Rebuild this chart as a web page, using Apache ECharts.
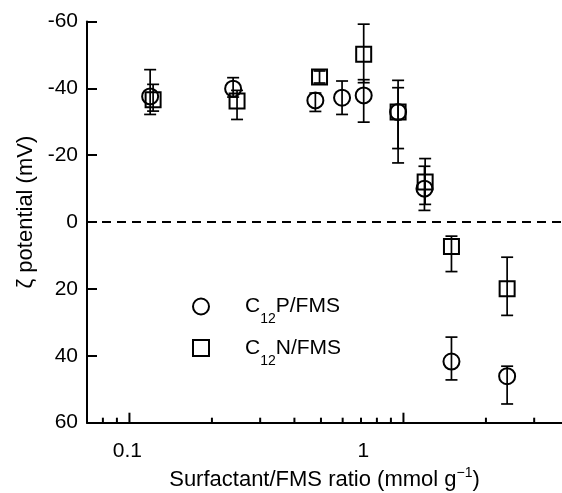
<!DOCTYPE html>
<html><head><meta charset="utf-8">
<script src="https://cdn.jsdelivr.net/npm/echarts@6/dist/echarts.min.js"></script>
<style>html,body{margin:0;padding:0;background:#fff}#c{width:562px;height:493px}</style>
</head><body><div id="c"></div>
<script>
// ---- data ----
const seriesNames = ['C12P/FMS', 'C12N/FMS'];
// C12P/FMS (circles)
const ratioP = [0.119, 0.239, 0.477, 0.597, 0.716, 0.956, 1.193, 1.497, 2.39];
const zetaP  = [-37.6, -39.9, -36.4, -37.2, -37.9, -32.9, -10.0, 41.7, 46.1];
const errLowP  = [-45.6, -43.2, -38.6, -42.2, -42.6, -40.2, -16.7, 34.4, 43.1];
const errHighP = [-32.2, -37.4, -33.1, -32.2, -29.9, -22.0, -3.5, 47.2, 54.4];
// C12N/FMS (squares)
const ratioN = [0.122, 0.247, 0.494, 0.716, 0.956, 1.2, 1.497, 2.39];
const zetaN  = [-36.6, -36.2, -43.4, -50.2, -32.9, -12.0, 7.3, 19.9];
const errLowN  = [-41.2, -39.4, -45.2, -59.2, -42.4, -19.0, 4.2, 10.5];
const errHighN = [-33.2, -30.7, -41.6, -41.7, -17.7, -5.3, 14.8, 27.9];
// axes
const xMin = 0.07, xMax = 3.79;
const xMajorTicks = [0.1, 1];
const xMinorTicks = [0.08, 0.09, 0.2, 0.3, 0.4, 0.5, 0.6, 0.7, 0.8, 0.9, 2, 3];
const xTickLabels = ['0.1', '1'];
const yMin = -60, yMax = 60, yStep = 20;
const xTitle = ['Surfactant/FMS ratio (mmol g', '\u22121', ')'];
const yTitle = '\u03b6 potential (mV)';

// ---- chart ----
const FONT = '"Liberation Sans", Arial, Helvetica, sans-serif';
const chart = echarts.init(document.getElementById('c'), null, {renderer: 'canvas'});

const toXY = (xs, ys) => xs.map((x, i) => [x, ys[i]]);
const toErr = (xs, lo, hi) => xs.map((x, i) => [x, lo[i], hi[i]]);

function errorBarItem(params, api) {
  const x = api.value(0);
  const p1 = api.coord([x, api.value(1)]);
  const p2 = api.coord([x, api.value(2)]);
  const w = 6;
  const st = {stroke: '#000', lineWidth: 1.7};
  return {type: 'group', children: [
    {type: 'line', shape: {x1: p1[0], y1: p1[1], x2: p2[0], y2: p2[1]}, style: st},
    {type: 'line', shape: {x1: p1[0] - w, y1: p1[1], x2: p1[0] + w, y2: p1[1]}, style: st},
    {type: 'line', shape: {x1: p2[0] - w, y1: p2[1], x2: p2[0] + w, y2: p2[1]}, style: st}
  ]};
}
function tickItem(params, api) {
  const x = api.value(0);
  const major = xMajorTicks.some(t => Math.abs(t - x) < 1e-9);
  const p = api.coord([x, yMax]);
  const len = major ? 10 : 5;
  return {type: 'line', shape: {x1: p[0], y1: p[1], x2: p[0], y2: p[1] - len},
          style: {stroke: '#000', lineWidth: 2}};
}
function near(v, t) { return Math.abs(Math.log10(v) - Math.log10(t)) < 1e-6; }

const legendRich = {
  c: {fontSize: 21, fontFamily: FONT, color: '#000', lineHeight: 40, verticalAlign: 'middle', padding: [0, 0, 0, 31]},
  a: {fontSize: 21, fontFamily: FONT, color: '#000', lineHeight: 40, verticalAlign: 'middle'},
  b: {fontSize: 14, fontFamily: FONT, color: '#000', lineHeight: 8, verticalAlign: 'bottom'}
};

chart.setOption({
  animation: false,
  backgroundColor: '#fff',
  grid: {left: 87, right: 0, top: 21.5, bottom: 70.3, containLabel: false, outerBoundsMode: 'none'},
  legend: {
    orient: 'vertical', left: 187, top: 291, itemWidth: 16, itemHeight: 16, itemGap: 11,
    selectedMode: false,
    data: [
      {name: seriesNames[0], icon: 'circle', itemStyle: {color: 'transparent', borderColor: '#000', borderWidth: 2}},
      {name: seriesNames[1], icon: 'rect', itemStyle: {color: 'transparent', borderColor: '#000', borderWidth: 2}}
    ],
    formatter: name => '{c|' + name.slice(0, 1) + '}{b|' + name.slice(1, 3) + '}{a|' + name.slice(3) + '}',
    textStyle: {rich: legendRich}
  },
  xAxis: {
    type: 'log', logBase: 10, min: xMin, max: xMax,
    name: '{n|' + xTitle[0] + '}{p|' + xTitle[1] + '}{n|' + xTitle[2] + '}',
    nameLocation: 'middle', nameGap: 42,
    nameTextStyle: {rich: {
      n: {fontSize: 22, fontFamily: FONT, color: '#000', lineHeight: 26, verticalAlign: 'middle'},
      p: {fontSize: 14, fontFamily: FONT, color: '#000', lineHeight: 14, verticalAlign: 'top'}
    }},
    axisLine: {onZero: false, lineStyle: {color: '#000', width: 2}},
    axisTick: {show: false},
    splitLine: {show: false},
    axisLabel: {
      showMinLabel: false, showMaxLabel: false, margin: 18,
      color: '#000', fontSize: 21, fontFamily: FONT,
      formatter: v => {
        if (near(v, xMajorTicks[0])) return '{s0|' + xTickLabels[0] + '}';
        if (near(v, xMajorTicks[1])) return '{s1|' + xTickLabels[1] + '}';
        return '';
      },
      rich: {
        s0: {fontSize: 21, fontFamily: FONT, color: '#000', padding: [0, 4, 0, 0]},
        s1: {fontSize: 21, fontFamily: FONT, color: '#000', padding: [0, 80, 0, 0]}
      }
    }
  },
  yAxis: {
    type: 'value', inverse: true, min: yMin, max: yMax, interval: yStep,
    name: yTitle, nameLocation: 'middle', nameGap: 49, nameRotate: 90,
    nameTextStyle: {fontSize: 22, fontFamily: FONT, color: '#000', padding: [0, 0, 0, 20]},
    axisLine: {lineStyle: {color: '#000', width: 2}},
    axisTick: {inside: true, length: 10, lineStyle: {color: '#000', width: 2}},
    splitLine: {show: false},
    axisLabel: {color: '#000', fontSize: 21, fontFamily: FONT, margin: 9}
  },
  series: [
    {type: 'custom', name: 'xticks', silent: true, renderItem: tickItem,
     data: xMajorTicks.concat(xMinorTicks).map(v => [v]), encode: {x: 0}, z: 5, clip: false},
    {type: 'custom', name: 'errP', silent: true, renderItem: errorBarItem,
     data: toErr(ratioP, errLowP, errHighP), encode: {x: 0, y: [1, 2]}, z: 3},
    {type: 'custom', name: 'errN', silent: true, renderItem: errorBarItem,
     data: toErr(ratioN, errLowN, errHighN), encode: {x: 0, y: [1, 2]}, z: 3},
    {type: 'scatter', name: seriesNames[0], symbol: 'circle', symbolSize: 16,
     itemStyle: {color: 'transparent', borderColor: '#000', borderWidth: 2, opacity: 1},
     data: toXY(ratioP, zetaP), z: 4,
     markLine: {silent: true, symbol: ['none', 'none'], label: {show: false},
       lineStyle: {color: '#000', width: 1.8, type: [9, 6]}, data: [{yAxis: 0}]}},
    {type: 'scatter', name: seriesNames[1], symbol: 'rect', symbolSize: 15,
     itemStyle: {color: 'transparent', borderColor: '#000', borderWidth: 2, opacity: 1},
     data: toXY(ratioN, zetaN), z: 4}
  ]
});
</script></body></html>
